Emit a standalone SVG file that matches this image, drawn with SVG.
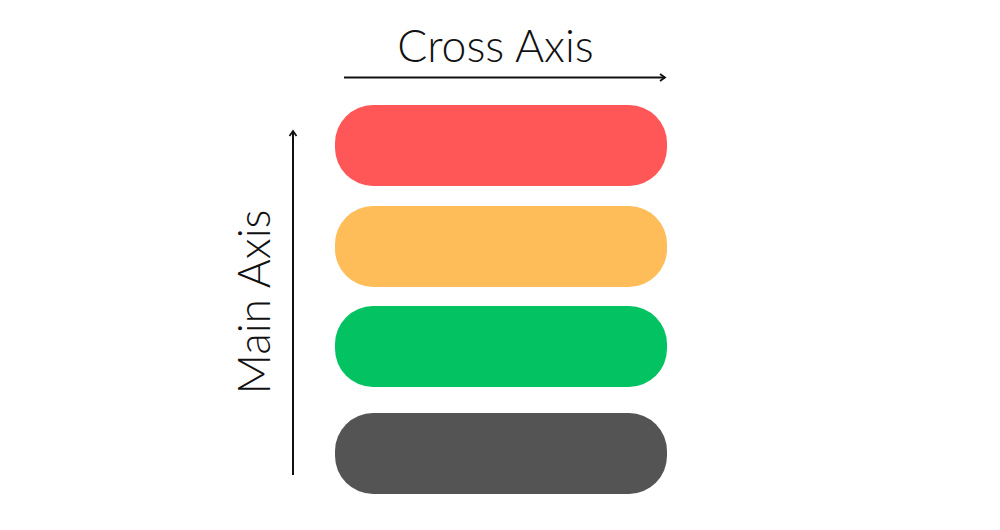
<svg xmlns="http://www.w3.org/2000/svg" width="1000" height="530" viewBox="0 0 1000 530">
<style>
.lbl{font-family:Lato,"Liberation Sans",sans-serif;font-weight:300;font-size:44.5px;fill:#111}
.ax{stroke:#111;stroke-width:2;fill:none}
</style>
<defs>
<marker id="arr" markerWidth="10" markerHeight="10" refX="7" refY="5" orient="auto" markerUnits="userSpaceOnUse">
<path d="M2,1.5 L7,5 L2,8.5" fill="none" stroke="#111" stroke-width="1.8"/>
</marker>
</defs>
<rect width="1000" height="530" fill="#fff"/>
<g id="connectors">
<line class="ax" x1="344" y1="77.5" x2="665" y2="77.5" marker-end="url(#arr)"/>
<line class="ax" x1="293" y1="475" x2="293" y2="131" marker-end="url(#arr)"/>
</g>
<g id="cross-axis-label"><text class="lbl" x="495.5" y="62" text-anchor="middle">Cross Axis</text></g>
<g id="main-axis-label"><text class="lbl" transform="translate(270,302) rotate(-90)" text-anchor="middle">Main Axis</text></g>
<g id="bar-red"><rect x="335" y="105" width="332" height="81" rx="38" fill="#ff5757"/></g>
<g id="bar-orange"><rect x="335" y="206" width="332" height="81" rx="38" fill="#ffbd59"/></g>
<g id="bar-green"><rect x="335" y="306" width="332" height="81" rx="38" fill="#03c261"/></g>
<g id="bar-gray"><rect x="335" y="413" width="332" height="81" rx="38" fill="#545454"/></g>
</svg>
